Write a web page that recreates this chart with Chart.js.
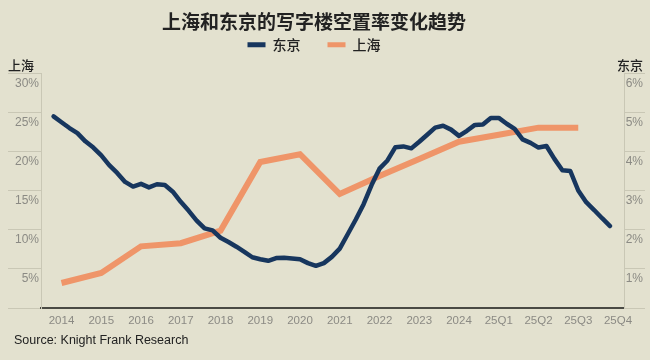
<!DOCTYPE html>
<html>
<head>
<meta charset="utf-8">
<title>上海和东京的写字楼空置率变化趋势</title>
<script src="https://cdn.jsdelivr.net/npm/chart.js@4.4.1/dist/chart.umd.min.js"></script>
<style>
    html, body { margin: 0; padding: 0; background: #e3e1cf; }
</style>
</head>
<body>
<canvas id="myChart" width="650" height="360"></canvas>
<script>
// Data
const xLabels = ['2014', '2015', '2016', '2017', '2018', '2019', '2020', '2021',
    '2022', '2023', '2024', '25Q1', '25Q2', '25Q3', '25Q4'];

// 上海, left axis, one reading per label
const shanghaiVacancy = [3.2, 4.5, 7.9, 8.3, 9.9, 18.7, 19.7, 14.6, 16.9, 19.1, 21.3, 22.2, 23.1, 23.1];

// 东京, right axis, one reading every 0.2 label step, starting just before 2014
const tokyoFirst = -0.2;
const tokyoStep = 0.2;
const tokyoVacancy = [
    4.91, 4.76, 4.61, 4.48, 4.27, 4.11, 3.91, 3.66, 3.46, 3.23,
    3.11, 3.18, 3.09, 3.17, 3.15, 2.98, 2.72, 2.49, 2.24, 2.04,
    1.99, 1.80, 1.69, 1.57, 1.44, 1.30, 1.25, 1.21, 1.28, 1.29,
    1.27, 1.25, 1.15, 1.08, 1.15, 1.31, 1.52, 1.89, 2.26, 2.66,
    3.15, 3.57, 3.78, 4.12, 4.14, 4.09, 4.26, 4.44, 4.62, 4.67,
    4.57, 4.41, 4.54, 4.69, 4.70, 4.87, 4.87, 4.72, 4.59, 4.32,
    4.23, 4.11, 4.15, 3.82, 3.53, 3.51, 3.01, 2.71, 2.51, 2.30,
    2.10
];

const leftTicks = [0, 5, 10, 15, 20, 25, 30];
const rightTicks = [0, 1, 2, 3, 4, 5, 6];

const TITLE = '上海和东京的写字楼空置率变化趋势';
const LEFT_NAME = '上海';
const RIGHT_NAME = '东京';
const SOURCE = 'Source: Knight Frank Research';

const COLORS = {
    tokyo: '#17365e',
    shanghai: '#ef9569',
    tick: '#8b8a84',
    guide: '#c9c7b5',
    base: '#4a4a44',
    text: '#222222',
};

// Setup
const tokyoPoints = tokyoVacancy.map((v, i) => ({ x: +(tokyoFirst + i * tokyoStep).toFixed(2), y: v }));
const shanghaiPoints = shanghaiVacancy.map((v, i) => ({ x: i, y: v }));

// axis names over the two value axes + source line
const sideNotes = {
    id: 'sideNotes',
    afterDraw(chart) {
        const { ctx, chartArea } = chart;
        ctx.save();
        ctx.fillStyle = COLORS.text;
        ctx.textBaseline = 'middle';
        ctx.font = '500 13px "Noto Sans CJK SC"';
        ctx.textAlign = 'left';
        ctx.fillText(LEFT_NAME, 8, chartArea.top - 9);
        ctx.textAlign = 'right';
        ctx.fillText(RIGHT_NAME, 643, chartArea.top - 9);
        ctx.textAlign = 'left';
        ctx.font = '12.5px "Liberation Sans"';
        ctx.fillText(SOURCE, 14, 341);
        ctx.restore();
    }
};

const tickFont = { family: '"Liberation Sans"', size: 12 };

const data = {
    datasets: [{
            label: '东京',
            data: tokyoPoints,
            xAxisID: 'x',
            yAxisID: 'y2',
            borderColor: COLORS.tokyo,
            backgroundColor: COLORS.tokyo,
            borderWidth: 4.5,
            borderJoinStyle: 'round',
            borderCapStyle: 'round',
            pointRadius: 0,
            tension: 0,
        },
        {
            label: '上海',
            data: shanghaiPoints,
            xAxisID: 'x',
            yAxisID: 'y',
            borderColor: COLORS.shanghai,
            backgroundColor: COLORS.shanghai,
            borderWidth: 6,
            borderJoinStyle: 'miter',
            pointRadius: 0,
            tension: 0,
        }
    ]
};

// Config
const config = {
    type: 'line',
    data: data,
    plugins: [sideNotes],
    options: {
        responsive: false,
        animation: false,
        layout: { padding: { left: 0, right: 22, top: 0, bottom: 30 } },
        plugins: {
            tooltip: { enabled: false },
            title: {
                display: true,
                text: TITLE,
                color: COLORS.text,
                font: { family: '"Noto Sans CJK SC"', size: 19, weight: 'bold' },
                padding: { top: 10, bottom: -22 },
            },
            legend: {
                display: true,
                labels: {
                    color: COLORS.text,
                    font: { family: '"Noto Sans CJK SC"', size: 14, weight: '500' },
                    boxWidth: 18,
                    boxHeight: 5,
                    padding: 27,
                    generateLabels(chart) {
                        const items = Chart.defaults.plugins.legend.labels.generateLabels(chart);
                        items.forEach(item => { item.lineWidth = 0; });
                        return items;
                    }
                }
            }
        },
        scales: {
            x: {
                type: 'linear',
                min: -0.516,
                max: 14.151,
                afterBuildTicks(scale) {
                    scale.ticks = xLabels.map((l, i) => ({ value: i }));
                },
                afterFit(scale) { scale.height = 22; },
                ticks: {
                    autoSkip: false,
                    maxRotation: 0,
                    padding: 6,
                    color: COLORS.tick,
                    font: { family: '"Liberation Sans"', size: 11.5 },
                    callback: (v) => xLabels[v],
                },
                grid: { display: false, drawTicks: false },
                border: { display: true, color: COLORS.base, width: 2 },
            },
            // empty band between legend and plot, room for the axis names
            xTop: {
                type: 'linear',
                position: 'top',
                display: true,
                afterFit(scale) { scale.height = 12; },
                ticks: { display: false },
                grid: { display: false, drawTicks: false },
                border: { display: false },
            },
            y: {
                position: 'left',
                min: 0,
                max: 30,
                afterBuildTicks(scale) {
                    scale.ticks = leftTicks.map(v => ({ value: v }));
                },
                afterFit(scale) { scale.width = 41; },
                ticks: {
                    color: COLORS.tick,
                    font: tickFont,
                    padding: -31,
                    labelOffset: 10,
                    callback: (v) => (v === 0 ? '' : v + '%'),
                },
                grid: { drawOnChartArea: false, tickLength: 33, color: COLORS.guide },
                border: { display: true, color: COLORS.guide, width: 1 },
            },
            y2: {
                position: 'right',
                min: 0,
                max: 6,
                afterBuildTicks(scale) {
                    scale.ticks = rightTicks.map(v => ({ value: v }));
                },
                afterFit(scale) { scale.width = 4; },
                ticks: {
                    mirror: true,
                    crossAlign: 'near',
                    color: COLORS.tick,
                    font: tickFont,
                    padding: 19,
                    labelOffset: 10,
                    callback: (v) => (v === 0 ? '' : v + '%'),
                },
                grid: { drawOnChartArea: false, tickLength: 21, color: COLORS.guide },
                border: { display: true, color: COLORS.guide, width: 1 },
            }
        }
    },
};

const myChart = new Chart(
    document.getElementById('myChart'),
    config
);
</script>
</body>
</html>
